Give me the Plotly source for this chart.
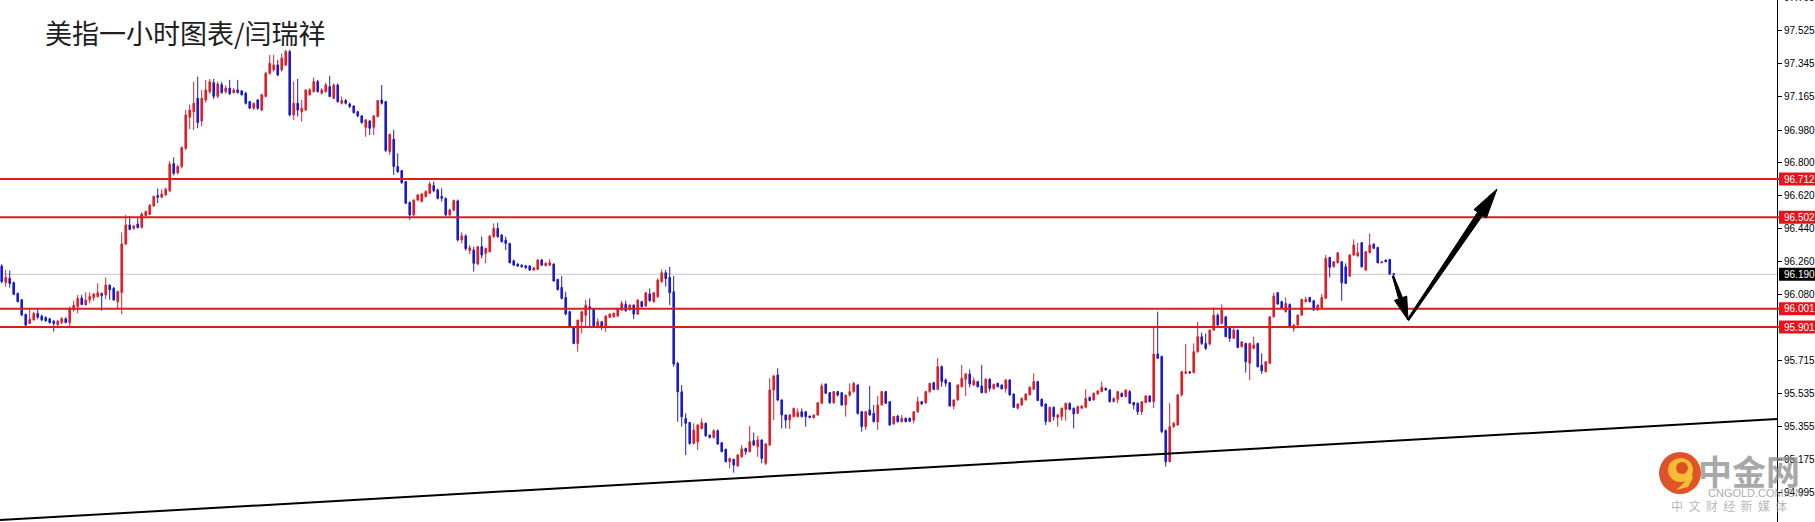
import plotly.graph_objects as go

# ---------------- data ----------------
opens = [
96.235,96.145,96.168,96.144,96.085,96.050,95.970,95.920,95.940,95.975,
95.960,95.952,95.946,95.932,95.914,95.925,95.946,95.925,95.995,96.013,
96.060,96.022,96.050,96.062,96.067,96.085,96.077,96.130,96.113,96.040,
96.090,96.356,96.460,96.440,96.465,96.447,96.511,96.518,96.564,96.622,
96.612,96.625,96.648,96.797,96.746,96.780,96.880,97.050,97.080,97.154,
97.030,97.145,97.190,97.240,97.165,97.228,97.190,97.210,97.185,97.200,
97.195,97.182,97.136,97.100,97.145,97.090,97.164,97.291,97.310,97.337,
97.310,97.337,97.410,97.063,97.127,97.081,97.090,97.173,97.191,97.246,
97.182,97.191,97.218,97.154,97.227,97.127,97.142,97.123,97.112,97.081,
97.058,96.995,97.030,96.995,97.054,97.145,97.136,96.862,96.930,96.780,
96.758,96.698,96.583,96.515,96.597,96.588,96.616,96.634,96.676,96.652,
96.616,96.606,96.515,96.542,96.592,96.378,96.400,96.320,96.323,96.246,
96.341,96.304,96.313,96.396,96.441,96.405,96.377,96.359,96.264,96.246,
96.240,96.237,96.235,96.213,96.217,96.268,96.237,96.240,96.246,96.162,
96.118,96.063,95.985,95.903,95.811,95.930,95.966,96.012,95.998,95.906,
95.930,95.906,95.954,95.957,95.961,95.994,96.025,95.998,96.021,95.972,
96.040,96.016,96.082,96.040,96.067,96.149,96.198,96.173,96.094,95.702,
95.546,95.400,95.378,95.263,95.272,95.345,95.373,95.309,95.296,95.333,
95.267,95.231,95.163,95.176,95.139,95.190,95.236,95.218,95.278,95.245,
95.282,95.154,95.254,95.556,95.638,95.501,95.419,95.391,95.410,95.410,
95.437,95.437,95.413,95.404,95.419,95.483,95.589,95.541,95.486,95.547,
95.541,95.474,95.528,95.547,95.583,95.437,95.355,95.446,95.428,95.382,
95.474,95.547,95.492,95.370,95.413,95.382,95.401,95.401,95.391,95.437,
95.492,95.486,95.547,95.596,95.559,95.684,95.611,95.596,95.468,95.501,
95.574,95.615,95.644,95.583,95.602,95.578,95.541,95.615,95.562,95.593,
95.583,95.562,95.611,95.534,95.456,95.474,95.501,95.529,95.560,95.602,
95.505,95.479,95.383,95.461,95.406,95.410,95.450,95.483,95.456,95.428,
95.456,95.461,95.516,95.501,95.534,95.547,95.565,95.556,95.492,95.505,
95.538,95.520,95.547,95.487,95.483,95.437,95.487,95.523,95.492,95.753,
95.739,95.333,95.163,95.355,95.364,95.529,95.647,95.656,95.651,95.766,
95.848,95.811,95.808,95.884,95.966,95.921,95.957,95.903,95.839,95.884,
95.793,95.811,95.702,95.784,95.811,95.692,95.656,95.702,95.957,96.089,
96.040,95.985,96.025,95.893,95.912,95.966,96.040,96.063,96.045,95.994,
96.008,96.058,96.282,96.231,96.253,96.259,96.231,96.180,96.295,96.290,
96.363,96.213,96.308,96.355,96.337,96.253,96.268,96.271,96.193]
highs = [
96.245,96.214,96.210,96.150,96.090,96.055,95.975,95.998,95.985,96.000,
95.970,95.960,95.952,95.940,95.940,95.955,95.955,96.013,96.045,96.077,
96.077,96.091,96.091,96.086,96.140,96.090,96.173,96.135,96.120,96.100,
96.420,96.515,96.510,96.460,96.497,96.530,96.540,96.575,96.620,96.660,
96.655,96.665,96.810,96.830,96.790,96.890,97.090,97.120,97.245,97.273,
97.200,97.255,97.260,97.260,97.245,97.245,97.225,97.255,97.210,97.255,
97.200,97.190,97.140,97.130,97.150,97.180,97.300,97.392,97.392,97.364,
97.400,97.420,97.420,97.246,97.260,97.145,97.205,97.210,97.269,97.255,
97.210,97.240,97.277,97.235,97.235,97.164,97.150,97.130,97.115,97.085,
97.060,97.040,97.035,97.060,97.145,97.227,97.140,96.960,96.981,96.853,
96.760,96.700,96.590,96.600,96.630,96.635,96.650,96.698,96.698,96.660,
96.661,96.610,96.550,96.600,96.600,96.420,96.410,96.350,96.341,96.345,
96.396,96.335,96.405,96.469,96.472,96.410,96.396,96.360,96.270,96.250,
96.245,96.240,96.240,96.230,96.272,96.275,96.255,96.272,96.250,96.165,
96.180,96.094,95.990,95.905,95.940,95.990,96.049,96.058,96.000,95.948,
95.935,95.965,95.975,95.980,96.006,96.045,96.045,96.025,96.025,96.052,
96.045,96.092,96.113,96.092,96.167,96.217,96.213,96.231,96.180,95.711,
95.583,95.428,95.380,95.373,95.370,95.400,95.378,95.310,95.340,95.340,
95.270,95.235,95.185,95.180,95.205,95.254,95.240,95.359,95.322,95.304,
95.285,95.265,95.620,95.638,95.675,95.505,95.420,95.425,95.460,95.455,
95.455,95.440,95.415,95.420,95.490,95.592,95.590,95.545,95.550,95.550,
95.545,95.530,95.592,95.602,95.590,95.440,95.440,95.578,95.474,95.523,
95.550,95.550,95.495,95.415,95.420,95.419,95.405,95.405,95.440,95.519,
95.495,95.550,95.595,95.600,95.730,95.690,95.620,95.600,95.505,95.587,
95.693,95.650,95.669,95.625,95.606,95.693,95.620,95.620,95.590,95.595,
95.587,95.615,95.615,95.537,95.482,95.515,95.537,95.575,95.647,95.606,
95.510,95.483,95.465,95.465,95.425,95.460,95.487,95.487,95.460,95.470,
95.472,95.560,95.520,95.542,95.555,95.602,95.570,95.560,95.515,95.550,
95.542,95.560,95.556,95.490,95.487,95.495,95.527,95.527,95.907,95.985,
95.745,95.340,95.483,95.380,95.535,95.660,95.808,95.660,95.811,95.930,
95.870,95.866,95.888,96.008,95.976,96.025,95.960,95.906,95.906,95.888,
95.823,95.815,95.815,95.848,95.815,95.757,95.715,95.960,96.089,96.093,
96.045,96.063,96.030,95.915,95.970,96.056,96.067,96.067,96.049,96.025,
96.082,96.295,96.286,96.263,96.312,96.263,96.250,96.300,96.381,96.363,
96.367,96.318,96.414,96.360,96.340,96.263,96.270,96.275,96.195]
lows = [
96.140,96.122,96.117,96.075,96.036,95.960,95.905,95.918,95.935,95.943,
95.932,95.930,95.920,95.876,95.905,95.918,95.920,95.903,95.985,95.976,
96.020,96.020,96.031,96.044,96.064,95.990,96.053,96.050,96.045,96.000,
95.970,96.350,96.430,96.435,96.442,96.440,96.505,96.515,96.560,96.580,
96.607,96.620,96.640,96.732,96.738,96.770,96.870,96.985,96.980,96.990,
97.000,97.130,97.180,97.150,97.155,97.180,97.180,97.172,97.180,97.180,
97.170,97.120,97.095,97.090,97.090,97.085,97.160,97.285,97.300,97.275,
97.300,97.330,97.055,97.036,97.054,97.027,97.085,97.170,97.185,97.185,
97.175,97.185,97.160,97.150,97.130,97.120,97.120,97.100,97.070,97.050,
97.015,96.944,96.953,96.953,97.050,97.120,96.860,96.844,96.734,96.745,
96.685,96.575,96.488,96.510,96.590,96.585,96.610,96.630,96.640,96.600,
96.588,96.510,96.510,96.535,96.370,96.360,96.320,96.300,96.204,96.240,
96.277,96.250,96.310,96.390,96.390,96.365,96.323,96.250,96.235,96.230,
96.226,96.220,96.208,96.208,96.213,96.235,96.233,96.235,96.150,96.100,
96.052,95.965,95.900,95.806,95.766,95.866,95.906,95.906,95.900,95.900,
95.884,95.875,95.950,95.953,95.957,95.990,95.985,95.990,95.943,95.968,
96.008,96.012,96.040,96.035,96.060,96.145,96.122,96.021,95.683,95.382,
95.355,95.199,95.255,95.258,95.227,95.340,95.300,95.290,95.290,95.255,
95.215,95.160,95.127,95.103,95.135,95.185,95.200,95.215,95.250,95.190,
95.154,95.145,95.250,95.391,95.495,95.346,95.346,95.342,95.405,95.405,
95.405,95.355,95.400,95.400,95.415,95.480,95.535,95.480,95.480,95.520,
95.470,95.410,95.520,95.540,95.420,95.328,95.337,95.415,95.378,95.337,
95.470,95.480,95.360,95.365,95.378,95.378,95.378,95.380,95.373,95.430,
95.475,95.480,95.540,95.555,95.555,95.574,95.574,95.465,95.450,95.498,
95.570,95.523,95.571,95.580,95.570,95.538,95.538,95.547,95.560,95.570,
95.560,95.541,95.525,95.458,95.450,95.470,95.498,95.525,95.556,95.495,
95.465,95.364,95.380,95.388,95.355,95.388,95.388,95.445,95.346,95.425,
95.452,95.456,95.494,95.498,95.530,95.544,95.552,95.488,95.488,95.483,
95.516,95.516,95.480,95.450,95.419,95.419,95.483,95.488,95.456,95.725,
95.320,95.136,95.160,95.350,95.360,95.520,95.643,95.643,95.647,95.760,
95.802,95.775,95.800,95.880,95.908,95.915,95.845,95.820,95.835,95.785,
95.790,95.651,95.610,95.780,95.680,95.643,95.652,95.700,95.953,96.023,
95.999,95.980,95.895,95.875,95.908,95.962,96.036,96.036,95.990,95.990,
96.004,96.054,96.173,96.228,96.250,96.045,96.136,96.176,96.290,96.286,
96.227,96.210,96.305,96.328,96.250,96.250,96.255,96.187,96.180]
closes = [
96.150,96.172,96.140,96.080,96.040,95.967,95.912,95.943,95.975,95.955,
95.940,95.935,95.925,95.920,95.932,95.947,95.926,96.000,96.020,96.057,
96.024,96.049,96.068,96.082,96.089,96.073,96.131,96.105,96.049,96.095,
96.356,96.460,96.436,96.455,96.445,96.520,96.533,96.568,96.617,96.612,
96.630,96.656,96.794,96.743,96.780,96.884,97.063,97.090,97.127,97.021,
97.154,97.200,97.245,97.165,97.233,97.185,97.210,97.180,97.200,97.186,
97.173,97.127,97.100,97.127,97.100,97.173,97.291,97.346,97.337,97.282,
97.374,97.410,97.063,97.127,97.090,97.100,97.200,97.200,97.246,97.191,
97.200,97.227,97.164,97.227,97.136,97.142,97.127,97.109,97.076,97.058,
97.021,97.036,96.990,97.058,97.142,97.127,96.868,96.957,96.780,96.752,
96.692,96.579,96.515,96.597,96.625,96.630,96.643,96.685,96.648,96.606,
96.606,96.515,96.542,96.594,96.378,96.400,96.330,96.335,96.250,96.341,
96.295,96.332,96.399,96.441,96.396,96.368,96.359,96.253,96.240,96.235,
96.231,96.226,96.213,96.226,96.268,96.240,96.250,96.253,96.153,96.107,
96.058,95.972,95.903,95.811,95.939,95.985,96.021,96.003,95.906,95.930,
95.906,95.961,95.972,95.976,96.003,96.030,95.990,96.021,95.972,96.049,
96.012,96.089,96.045,96.089,96.158,96.198,96.167,96.089,95.698,95.546,
95.409,95.373,95.263,95.336,95.364,95.377,95.305,95.296,95.333,95.260,
95.218,95.163,95.181,95.145,95.200,95.233,95.218,95.273,95.254,95.282,
95.181,95.260,95.556,95.633,95.501,95.419,95.391,95.419,95.455,95.432,
95.410,95.410,95.406,95.419,95.486,95.578,95.538,95.486,95.547,95.528,
95.474,95.528,95.547,95.592,95.428,95.355,95.437,95.419,95.382,95.474,
95.547,95.483,95.364,95.410,95.382,95.401,95.382,95.385,95.437,95.492,
95.479,95.547,95.592,95.559,95.684,95.602,95.593,95.468,95.501,95.583,
95.620,95.644,95.589,95.607,95.574,95.541,95.615,95.565,95.587,95.574,
95.562,95.611,95.529,95.461,95.479,95.510,95.534,95.571,95.602,95.498,
95.468,95.383,95.461,95.410,95.419,95.456,95.483,95.450,95.425,95.465,
95.468,95.510,95.498,95.538,95.551,95.571,95.556,95.492,95.510,95.547,
95.520,95.556,95.483,95.474,95.437,95.492,95.523,95.492,95.753,95.730,
95.328,95.163,95.355,95.373,95.529,95.656,95.656,95.650,95.766,95.848,
95.811,95.784,95.884,95.966,95.912,95.994,95.848,95.839,95.884,95.789,
95.820,95.711,95.811,95.802,95.683,95.661,95.711,95.957,96.071,96.027,
96.003,96.030,95.899,95.912,95.966,96.052,96.052,96.040,95.994,96.021,
96.063,96.277,96.228,96.259,96.308,96.144,96.140,96.295,96.350,96.308,
96.231,96.314,96.350,96.332,96.253,96.259,96.259,96.191,96.190]

level_prices = [96.712, 96.502, 96.001, 95.901]
level_labels = ["96.712", "96.502", "96.001", "95.901"]
last_price = 96.190
last_label = "96.190"
tick_values = [97.525, 97.345, 97.165, 96.980, 96.800, 96.620, 96.440,
               96.260, 96.080, 95.715, 95.535, 95.355, 95.175, 94.995]
tick_labels = ["97.525", "97.345", "97.165", "96.980", "96.800", "96.620", "96.440",
               "96.260", "96.080", "95.715", "95.535", "95.355", "95.175", "94.995"]
top_tick_value = 97.705
top_tick_label = "97.705"
trend_prices = [94.843, 95.397]          # trendline at left / right edge of plot
title_text = "美指一小时图表/闫瑞祥"

# ---------------- styling / geometry ----------------
W, H = 1815, 522
PW = 1777                      # plot-area width in px (axis line)
Y_RANGE = [94.8326, 97.6928]
X_RANGE = [-0.425, 443.825]
RED = "#d8222a"
BLUE = "#1c1cc4"
LINE_RED = "#d81e1e"
FONT = "Liberation Sans, Arial, sans-serif"
PX_PER_UNIT = H / (Y_RANGE[1] - Y_RANGE[0])


def px(x):
    return x / PW


def py(y):
    return 1 - y / H


def poly(points):
    return "M" + " L".join(f"{px(a):.5f},{py(b):.5f}" for a, b in points) + " Z"


fig = go.Figure()
fig.add_trace(go.Candlestick(
    x=list(range(len(opens))), open=opens, high=highs, low=lows, close=closes,
    increasing=dict(line=dict(color=RED, width=1), fillcolor=RED),
    decreasing=dict(line=dict(color=BLUE, width=1), fillcolor=BLUE),
    whiskerwidth=0, showlegend=False, hoverinfo="skip"))

shapes = []
annotations = []

# current price line (light gray, behind candles)
shapes.append(dict(type="line", xref="paper", yref="y", x0=0, x1=1, y0=last_price, y1=last_price,
                   line=dict(color="#c8c8c8", width=1), layer="below"))
# support / resistance lines
for p in level_prices:
    shapes.append(dict(type="line", xref="paper", yref="y", x0=0, x1=1779 / PW, y0=p, y1=p,
                       line=dict(color=LINE_RED, width=2), layer="above"))
# trendline
shapes.append(dict(type="line", xref="x", yref="y", x0=X_RANGE[0], x1=X_RANGE[1],
                   y0=trend_prices[0], y1=trend_prices[1],
                   line=dict(color="black", width=2), layer="above"))

# price label boxes
half = 6.5 / PX_PER_UNIT
for p, lab in zip(level_prices, level_labels):
    shapes.append(dict(type="rect", xref="paper", yref="y", x0=1779 / PW, x1=1816 / PW,
                       y0=p - half, y1=p + half, fillcolor="#e8141c", line=dict(width=0), layer="above"))
    annotations.append(dict(xref="paper", yref="y", x=1781.5 / PW, y=p, text=lab, showarrow=False,
                            xanchor="left", yanchor="middle", font=dict(family=FONT, size=10, color="white")))
shapes.append(dict(type="rect", xref="paper", yref="y", x0=1779 / PW, x1=1816 / PW,
                   y0=last_price - half, y1=last_price + half, fillcolor="black",
                   line=dict(width=0), layer="above"))
annotations.append(dict(xref="paper", yref="y", x=1781.5 / PW, y=last_price, text=last_label,
                        showarrow=False, xanchor="left", yanchor="middle",
                        font=dict(family=FONT, size=10, color="white")))
# top partial tick label (just above the visible range, so placed in paper coords)
top_paper_y = 1 + (top_tick_value - Y_RANGE[1]) * PX_PER_UNIT / H
annotations.append(dict(xref="paper", yref="paper", x=1781.5 / PW, y=top_paper_y, text=top_tick_label,
                        showarrow=False, xanchor="left", yanchor="middle",
                        font=dict(family=FONT, size=10, color="black")))

# hand-drawn arrows (tapered)
arrow1 = [(1393.66, 275.77), (1402.47, 297.59), (1406.73, 296.14), (1408.0, 320.0),
          (1394.43, 300.34), (1398.69, 298.89), (1392.34, 276.23)]
arrow2 = [(1408.83, 320.56), (1482.62, 215.50), (1486.34, 218.02), (1497.0, 189.0),
          (1473.94, 209.60), (1477.66, 212.12), (1407.17, 319.44)]
for a in (arrow1, arrow2):
    shapes.append(dict(type="path", xref="paper", yref="paper", path=poly(a),
                       fillcolor="black", line=dict(color="black", width=1), layer="above"))

# title
annotations.append(dict(xref="paper", yref="paper", x=px(43), y=py(33), text=title_text,
                        showarrow=False, xanchor="left", yanchor="middle",
                        font=dict(family="Noto Sans CJK SC", size=27, color="#1e1e1e")))

# watermark logo (中金网)
shapes.append(dict(type="circle", xref="paper", yref="paper", x0=px(1659), x1=px(1701),
                   y0=py(494), y1=py(452), fillcolor="#dc4a1c", line=dict(width=0),
                   layer="above", opacity=0.95))
shapes.append(dict(type="circle", xref="paper", yref="paper", x0=px(1668), x1=px(1693),
                   y0=py(482), y1=py(458), fillcolor="#f7c23a", line=dict(width=0),
                   layer="above", opacity=0.95))
shapes.append(dict(type="circle", xref="paper", yref="paper", x0=px(1676), x1=px(1688),
                   y0=py(474), y1=py(462), fillcolor="#dc4a1c", line=dict(width=0),
                   layer="above", opacity=0.95))
shapes.append(dict(type="path", xref="paper", yref="paper",
                   path=poly([(1690, 470), (1693, 478), (1688, 487), (1676, 490), (1684, 483), (1687, 476)]),
                   fillcolor="#f7c23a", line=dict(width=0), layer="above", opacity=0.95))
annotations.append(dict(xref="paper", yref="paper", x=px(1749), y=py(470), text="<b>中金网</b>",
                        showarrow=False, xanchor="center", yanchor="middle",
                        font=dict(family="Noto Sans CJK SC", size=34, color="rgba(140,140,140,0.75)")))
annotations.append(dict(xref="paper", yref="paper", x=px(1755), y=py(493), text="CNGOLD.COM.CN",
                        showarrow=False, xanchor="center", yanchor="middle",
                        font=dict(family=FONT, size=11, color="rgba(150,150,150,0.8)")))
annotations.append(dict(xref="paper", yref="paper", x=px(1729), y=py(505), text="中  文  财  经  新  媒  体",
                        showarrow=False, xanchor="center", yanchor="middle",
                        font=dict(family="Noto Sans CJK SC", size=12, color="rgba(160,160,160,0.75)")))

fig.update_layout(
    width=W, height=H,
    margin=dict(l=0, r=W - PW, t=0, b=0),
    paper_bgcolor="white", plot_bgcolor="white",
    showlegend=False, boxgap=0.45,
    shapes=shapes, annotations=annotations,
    xaxis=dict(visible=False, range=X_RANGE, rangeslider=dict(visible=False), fixedrange=True),
    yaxis=dict(side="right", range=Y_RANGE, tickvals=tick_values, ticktext=tick_labels,
               ticks="outside", ticklen=4, tickcolor="black", tickwidth=1,
               showline=True, linecolor="black", linewidth=1, mirror=False,
               showgrid=False, zeroline=False, automargin=False, fixedrange=True,
               tickfont=dict(family=FONT, size=10, color="black")),
)

fig.write_html(
    "out.html",
    config={"displayModeBar": False, "staticPlot": True},
    post_script="document.body.style.margin='0';document.body.style.overflow='hidden';",
)
